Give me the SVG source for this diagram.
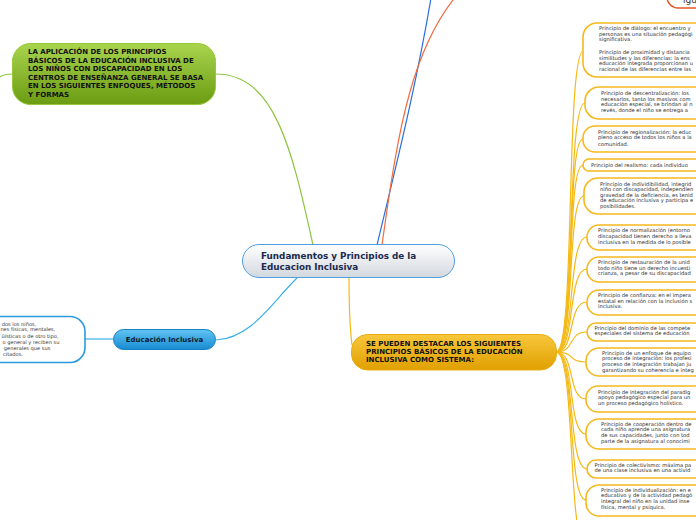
<svg xmlns="http://www.w3.org/2000/svg" width="696" height="520" viewBox="0 0 696 520">
<defs>
<linearGradient id="gGreen" x1="0" y1="0" x2="0" y2="1"><stop offset="0" stop-color="#a9d44e"/><stop offset="1" stop-color="#6b9c12"/></linearGradient>
<linearGradient id="gCenter" x1="0" y1="0" x2="0" y2="1"><stop offset="0" stop-color="#ffffff"/><stop offset="1" stop-color="#d3d8de"/></linearGradient>
<linearGradient id="gBlue" x1="0" y1="0" x2="0" y2="1"><stop offset="0" stop-color="#62c4f2"/><stop offset="1" stop-color="#168bd2"/></linearGradient>
<linearGradient id="gOrange" x1="0" y1="0" x2="0" y2="1"><stop offset="0" stop-color="#f8c73c"/><stop offset="1" stop-color="#e0a000"/></linearGradient>
</defs>
<style>
.conn{fill:none;stroke-width:1.2}
.cy{stroke:#f5b914}
.item{fill:#ffffff;stroke:#f6b81c;stroke-width:1.6}
.it{font-family:"DejaVu Sans",Verdana,sans-serif;font-size:5.2px;fill:#2e2e2e}
.bold{font-family:"DejaVu Sans",Verdana,sans-serif;font-weight:bold;fill:#111111}
.lt{font-family:"DejaVu Sans",Verdana,sans-serif;font-size:5.1px;fill:#333333}
</style>
<rect width="696" height="520" fill="#ffffff"/>

<g id="connectors">
<path class="conn" stroke="#8cc63f" d="M216,74 C275,74 292,150 313,245"/>
<path class="conn" stroke="#8cc63f" d="M0,77 C4,74 8,74 12,74"/>
<path class="conn" stroke="#2a6fdb" d="M377,245 C395,170 418,80 434,-20"/>
<path class="conn" stroke="#f26a3e" d="M382,245 C398,130 412,40 466,-15"/>
<path class="conn" stroke="#3ab0ea" d="M216,340 C252,338 272,302 297,278"/>
<path class="conn" stroke="#3ab0ea" d="M85,339 L113,339"/>
<path class="conn cy" d="M349,278 C349,300 349,320 352,345"/>
<path class="conn cy" d="M556,352 C576,352 565,50 584,50"/>
<path class="conn cy" d="M556,352 C576,352 566,103 585,103"/>
<path class="conn cy" d="M556,352 C576,352 566,139 583,139"/>
<path class="conn cy" d="M556,352 C576,352 566,165 583,165"/>
<path class="conn cy" d="M556,352 C576,352 566,196 584,196"/>
<path class="conn cy" d="M556,352 C576,352 567,237 587,237"/>
<path class="conn cy" d="M556,352 C576,352 567,269 587,269"/>
<path class="conn cy" d="M556,352 C576,352 567,302 587,302"/>
<path class="conn cy" d="M556,352 C576,352 567,332 587,332"/>
<path class="conn cy" d="M556,352 C576,352 567,362 586,362"/>
<path class="conn cy" d="M556,352 C576,352 567,399 586,399"/>
<path class="conn cy" d="M556,352 C576,352 567,434 586,434"/>
<path class="conn cy" d="M556,352 C576,352 567,469 587,469"/>
<path class="conn cy" d="M556,352 C576,352 567,500 586,500"/>
<path class="conn cy" d="M556,352 C576,352 567,545 586,545"/>
</g>

<g id="top-node">
<rect x="667" y="-22" width="60" height="30" rx="11" fill="#ffffff" stroke="#e8542a" stroke-width="1.5"/>
<text x="683" y="3" font-family="DejaVu Sans,sans-serif" font-size="9" fill="#333333">igu</text>
</g>

<g id="green-node">
<rect x="12.5" y="43.5" width="203" height="61" rx="18" fill="url(#gGreen)" stroke="#97c837" stroke-width="1"/>
<text class="bold" font-size="7">
<tspan x="28" y="54">LA APLICACIÓN DE LOS PRINCIPIOS</tspan>
<tspan x="28" y="62.6">BÁSICOS DE LA EDUCACIÓN INCLUSIVA DE</tspan>
<tspan x="28" y="71.2">LOS NIÑOS CON DISCAPACIDAD EN LOS</tspan>
<tspan x="28" y="79.8">CENTROS DE ENSEÑANZA GENERAL SE BASA</tspan>
<tspan x="28" y="88.4">EN LOS SIGUIENTES ENFOQUES, MÉTODOS</tspan>
<tspan x="28" y="97">Y FORMAS</tspan>
</text>
</g>

<g id="center-node">
<rect x="242.5" y="244.5" width="212" height="33" rx="16.5" fill="url(#gCenter)" stroke="#4f9fe0" stroke-width="1"/>
<text class="bold" font-size="8.8" style="fill:#1b2a4e">
<tspan x="261" y="259">Fundamentos y Principios de la</tspan>
<tspan x="261" y="270">Educacion Inclusiva</tspan>
</text>
</g>

<g id="blue-node">
<rect x="113.5" y="329.5" width="102" height="20" rx="10" fill="url(#gBlue)" stroke="#1a80c4" stroke-width="1"/>
<text class="bold" font-size="7" x="164.5" y="342" text-anchor="middle" style="fill:#0b1a2e">Educación Inclusiva</text>
</g>

<g id="left-note">
<rect x="-40" y="316.5" width="125" height="46" rx="15" fill="#ffffff" stroke="#2a9be0" stroke-width="1.6"/>
<text class="lt" text-anchor="end">
<tspan x="38" y="325.7">dos los niños,</tspan>
<tspan x="57" y="331.4">nes físicas, mentales,</tspan>
<tspan x="60" y="337.5">üísticas o de otro tipo,</tspan>
<tspan x="61" y="343.7">o general y reciben su</tspan>
<tspan x="52" y="350">generales que sus</tspan>
<tspan x="23" y="356.3">citados.</tspan>
</text>
</g>

<g id="orange-node">
<rect x="351.5" y="334.5" width="205" height="35.5" rx="16" fill="url(#gOrange)" stroke="#e8ad10" stroke-width="1"/>
<text class="bold" font-size="7">
<tspan x="366" y="345.7">SE PUEDEN DESTACAR LOS SIGUIENTES</tspan>
<tspan x="366" y="353.7">PRINCIPIOS BÁSICOS DE LA EDUCACIÓN</tspan>
<tspan x="366" y="361.7">INCLUSIVA COMO SISTEMA:</tspan>
</text>
</g>

<g id="item-dialogo">
<rect class="item" x="583" y="23" width="160" height="54" rx="14"/>
<text class="it"><tspan x="599" y="30">Principio de diálogo: el encuentro y</tspan><tspan x="599" y="35.7">personas es una situación pedagógi</tspan><tspan x="599" y="41.4">significativa.</tspan><tspan x="599" y="54">Principio de proximidad y distancia</tspan><tspan x="599" y="59.7">similitudes y las diferencias: la ens</tspan><tspan x="599" y="65.4">educación integrada proporcionan u</tspan><tspan x="599" y="71.1">racional de las diferencias entre las</tspan></text>
</g>
<g id="item-descentralizacion">
<rect class="item" x="585" y="87" width="160" height="32" rx="14"/>
<text class="it"><tspan x="601" y="95">Principio de descentralización: los</tspan><tspan x="601" y="100.7">necesarios, tanto los masivos com</tspan><tspan x="601" y="106.4">educación especial, se brindan al n</tspan><tspan x="601" y="112.1">revés, donde el niño se entrega a</tspan></text>
</g>
<g id="item-regionalizacion">
<rect class="item" x="583" y="126" width="160" height="26" rx="12"/>
<text class="it"><tspan x="598" y="133.5">Principio de regionalización: la educ</tspan><tspan x="598" y="139.4">pleno acceso de todos los niños a la</tspan><tspan x="598" y="145.5">comunidad.</tspan></text>
</g>
<g id="item-realismo">
<rect class="item" x="583" y="159" width="160" height="12" rx="6"/>
<text class="it" x="591" y="166.7">Principio del realismo: cada individuo</text>
</g>
<g id="item-individibilidad">
<rect class="item" x="584" y="178" width="160" height="36" rx="14"/>
<text class="it"><tspan x="600" y="185.5">Principio de individibilidad, integrid</tspan><tspan x="600" y="191.1">niño con discapacidad, independien</tspan><tspan x="600" y="196.7">gravedad de la deficiencia, es tenid</tspan><tspan x="600" y="202.3">de educación inclusiva y participa e</tspan><tspan x="600" y="207.9">posibilidades.</tspan></text>
</g>
<g id="item-normalizacion">
<rect class="item" x="587" y="225" width="160" height="25" rx="12"/>
<text class="it"><tspan x="598" y="232.2">Principio de normalización (entorno</tspan><tspan x="598" y="237.9">discapacidad tienen derecho a lleva</tspan><tspan x="598" y="243.6">inclusiva en la medida de lo posible</tspan></text>
</g>
<g id="item-restauracion">
<rect class="item" x="587" y="257" width="160" height="25" rx="12"/>
<text class="it"><tspan x="598" y="263.8">Principio de restauración de la unid</tspan><tspan x="598" y="269.5">todo niño tiene un derecho incuesti</tspan><tspan x="598" y="275.2">crianza, a pesar de su discapacidad</tspan></text>
</g>
<g id="item-confianza">
<rect class="item" x="587" y="290" width="160" height="25" rx="12"/>
<text class="it"><tspan x="598" y="297">Principio de confianza: en el impera</tspan><tspan x="598" y="302.7">estatal en relación con la inclusión s</tspan><tspan x="598" y="308.4">inclusiva.</tspan></text>
</g>
<g id="item-dominio">
<rect class="item" x="587" y="323" width="160" height="18" rx="9"/>
<text class="it"><tspan x="594.5" y="329.5">Principio del dominio de las compete</tspan><tspan x="594.5" y="335.2">especiales del sistema de educación</tspan></text>
</g>
<g id="item-enfoque">
<rect class="item" x="586" y="348" width="160" height="28" rx="13"/>
<text class="it"><tspan x="602" y="354.5">Principio de un enfoque de equipo</tspan><tspan x="602" y="360.2">proceso de integración: los profesi</tspan><tspan x="602" y="365.9">proceso de integración trabajan ju</tspan><tspan x="602" y="371.6">garantizando su coherencia e integ</tspan></text>
</g>
<g id="item-integracion">
<rect class="item" x="586" y="386" width="160" height="26" rx="12"/>
<text class="it"><tspan x="598" y="393.5">Principio de integración del paradig</tspan><tspan x="598" y="399.2">apoyo pedagógico especial para un</tspan><tspan x="598" y="404.9">un proceso pedagógico holístico.</tspan></text>
</g>
<g id="item-cooperacion">
<rect class="item" x="586" y="419" width="160" height="30" rx="13"/>
<text class="it"><tspan x="601" y="425.5">Principio de cooperación dentro de</tspan><tspan x="601" y="431.2">cada niño aprende una asignatura</tspan><tspan x="601" y="436.9">de sus capacidades, junto con tod</tspan><tspan x="601" y="442.6">parte de la asignatura al conocimi</tspan></text>
</g>
<g id="item-colectivismo">
<rect class="item" x="587" y="460" width="160" height="18" rx="9"/>
<text class="it"><tspan x="594.5" y="466.5">Principio de colectivismo: máxima pa</tspan><tspan x="594.5" y="472.2">de una clase inclusiva en una activid</tspan></text>
</g>
<g id="item-individualizacion">
<rect class="item" x="586" y="485" width="160" height="31" rx="13"/>
<text class="it"><tspan x="601" y="491.5">Principio de individualización: en e</tspan><tspan x="601" y="497.2">educativo y de la actividad pedagó</tspan><tspan x="601" y="502.9">integral del niño en la unidad inse</tspan><tspan x="601" y="508.6">física, mental y psíquica.</tspan></text>
</g>
</svg>
